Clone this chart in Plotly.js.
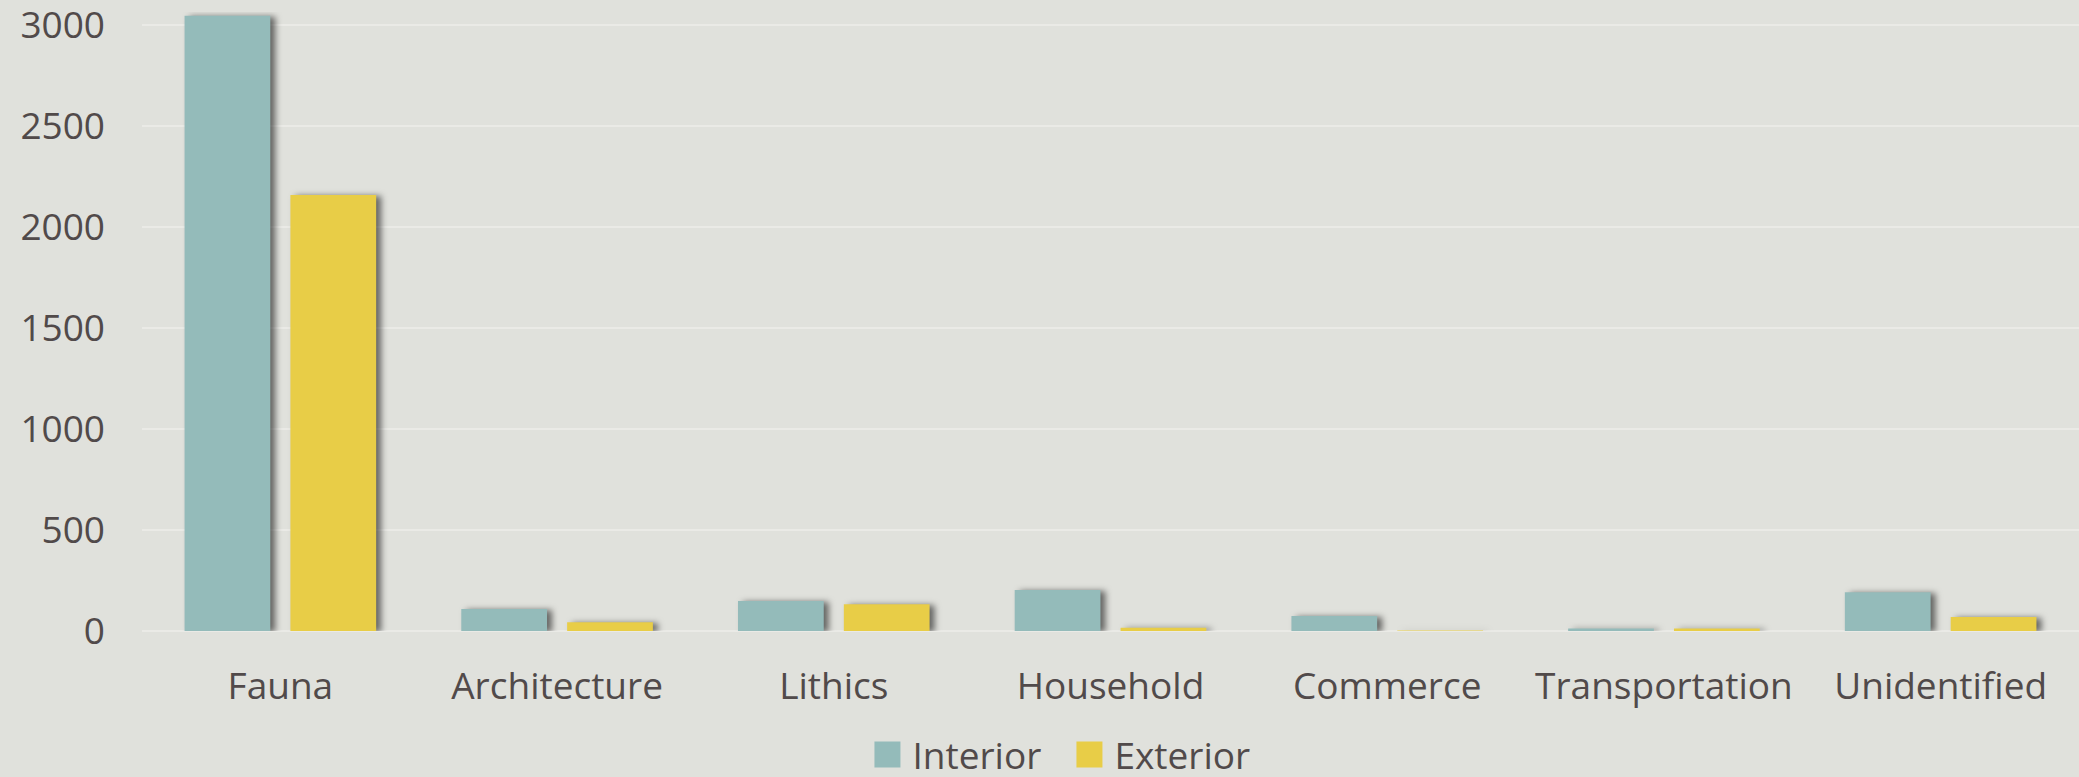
<!DOCTYPE html>
<html>
<head>
<meta charset="utf-8">
<script src="https://cdn.plot.ly/plotly-3.0.1.min.js"></script>
<style>
  html, body { margin: 0; padding: 0; background: #e0e1dc; overflow: hidden; }
  #chart { width: 2079px; height: 777px; }
  .barlayer .point path { filter: drop-shadow(5px 1px 3px rgba(0,0,0,0.55)); }
</style>
</head>
<body>
<div id="chart"></div>
<script>
const categories = ["Fauna", "Architecture", "Lithics", "Household", "Commerce", "Transportation", "Unidentified"];
const interiorValues = [3045, 109, 148, 203, 74, 12, 192];
const exteriorValues = [2158, 43, 132, 16, 3, 12, 69];
const yTickValues = [0, 500, 1000, 1500, 2000, 2500, 3000];

const textColor = "#514a4a";
const fontFamily = "'Open Sans', 'Noto Sans', sans-serif";
const fontSize = 37;

const traces = [
  {
    type: "bar", name: "Interior", x: categories, y: interiorValues,
    marker: { color: "#94bbba", line: { width: 0 } },
    hoverinfo: "x+y"
  },
  {
    type: "bar", name: "Exterior", x: categories, y: exteriorValues,
    marker: { color: "#e8cd47", line: { width: 0 } },
    hoverinfo: "x+y"
  }
];

const layout = {
  width: 2079, height: 777,
  paper_bgcolor: "#e0e1dc", plot_bgcolor: "#e0e1dc",
  margin: { l: 142, r: 0, t: 12, b: 146 },
  barmode: "group", bargap: 0.235, bargroupgap: 0.19,
  font: { family: fontFamily, color: textColor, size: fontSize },
  xaxis: {
    type: "category", showgrid: false, zeroline: false, showline: false,
    ticks: "", ticklabelstandoff: 30,
    tickfont: { family: fontFamily, color: textColor, size: fontSize }
  },
  yaxis: {
    range: [0, 3064], tickvals: yTickValues, ticktext: yTickValues.map(String),
    showgrid: true, gridcolor: "#eaeae6", gridwidth: 2,
    zeroline: true, zerolinecolor: "#eaeae6", zerolinewidth: 2,
    showline: false, ticks: "", ticklabelstandoff: 36,
    ticklabeloverflow: "allow", automargin: false,
    tickfont: { family: fontFamily, color: textColor, size: fontSize }
  },
  showlegend: true,
  legend: {
    orientation: "h", xref: "container", yref: "container",
    x: 0.512, xanchor: "center", y: 0, yanchor: "bottom",
    font: { family: fontFamily, color: textColor, size: fontSize },
    bgcolor: "rgba(0,0,0,0)", itemwidth: 40, tracegroupgap: 0,
    entrywidth: 147
  }
};

Plotly.newPlot("chart", traces, layout, { staticPlot: true, displayModeBar: false }).then(function (gd) {
  document.querySelectorAll(".legendpoints path").forEach(function (p) {
    p.setAttribute("d", "M13,13H-13V-13H13Z");
  });
  const lg = document.querySelector("g.legend");
  if (lg) {
    const t = lg.getAttribute("transform") || "";
    const m = t.match(/translate\(\s*([-\d.]+)[ ,]+([-\d.]+)\s*\)/);
    if (m) {
      lg.setAttribute("transform", "translate(" + m[1] + "," + (parseFloat(m[2]) + 9) + ")");
    }
  }
});
</script>
</body>
</html>
